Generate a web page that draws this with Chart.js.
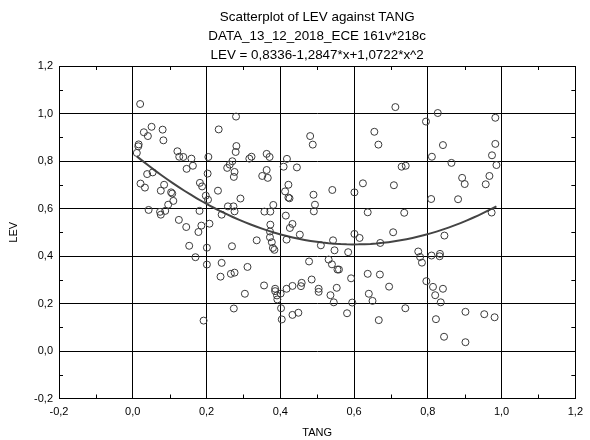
<!DOCTYPE html>
<html>
<head>
<meta charset="utf-8">
<script src="https://cdn.jsdelivr.net/npm/chart.js@4/dist/chart.umd.min.js"></script>
<style>
html,body{margin:0;padding:0;background:#fff;}
canvas{display:block;}
</style>
</head>
<body>
<canvas id="c" width="590" height="440"></canvas>
<script>
// ---- Data ----
const titleLines = ["Scatterplot of LEV against TANG", "DATA_13_12_2018_ECE 161v*218c", "LEV = 0,8336-1,2847*x+1,0722*x^2"];
const xLabel = "TANG";
const yLabel = "LEV";
const axisTicks = [-0.2, 0.0, 0.2, 0.4, 0.6, 0.8, 1.0, 1.2];
const minorTicks = [-0.1, 0.1, 0.3, 0.5, 0.7, 0.9, 1.1];

const tang = [
0.020,0.051,0.030,0.041,0.081,0.083,0.016,0.015,0.011,0.121,0.126,0.137,0.159,0.205,0.233,0.280,0.281,0.279,0.270,0.263,0.256,0.276,0.274,0.163,0.146,0.039,0.054,0.203,
0.316,0.322,0.363,0.371,0.363,0.351,0.366,0.418,0.409,0.445,0.481,0.488,0.655,0.666,0.712,0.729,0.740,
0.827,0.795,0.983,0.841,0.983,0.974,0.811,0.864,0.986,0.967,0.893,
0.021,0.033,0.085,0.076,0.104,0.107,0.110,0.096,0.043,0.074,0.076,0.088,0.182,0.188,0.231,0.198,0.204,0.181,0.258,0.273,0.276,0.241,0.125,0.145,0.186,0.208,0.178,0.153,0.201,0.269,0.170,0.201,0.241,0.238,0.266,0.276,
0.274,0.192,
0.422,0.413,0.422,0.425,0.292,0.490,0.541,0.601,0.624,0.708,0.494,0.491,0.381,0.357,0.373,0.415,0.637,0.736,0.433,0.426,0.373,0.372,0.372,0.453,0.417,0.336,0.377,0.380,0.384,0.510,0.543,0.547,0.601,0.615,0.584,0.671,0.706,0.311,0.478,0.531,0.540,0.555,0.559,0.637,0.670,0.592,0.485,0.458,0.456,0.433,0.356,0.417,0.386,0.504,0.553,0.695,
0.304,0.386,0.391,0.392,0.401,0.402,0.404,0.433,0.449,0.504,0.536,0.545,0.581,0.595,0.640,0.650,0.667,0.739,
0.796,0.814,0.841,0.820,0.835,0.822,0.844,0.902,0.953,0.981,0.902,
0.900,0.957,0.809,0.882,0.973,0.845,0.774,0.779,0.784,0.810,0.833,0.832
];
const lev = [
1.040,0.944,0.921,0.905,0.932,0.887,0.870,0.862,0.834,0.841,0.818,0.817,0.810,0.817,0.933,0.987,0.863,0.838,0.799,0.785,0.771,0.754,0.733,0.780,0.767,0.745,0.752,0.747,
0.810,0.818,0.830,0.817,0.762,0.737,0.729,0.809,0.776,0.773,0.905,0.869,0.923,0.869,1.027,0.776,0.780,
1.002,0.966,0.982,0.867,0.872,0.824,0.818,0.792,0.783,0.737,0.729,
0.705,0.688,0.700,0.675,0.668,0.663,0.632,0.616,0.594,0.586,0.574,0.590,0.708,0.693,0.675,0.654,0.637,0.590,0.609,0.609,0.588,0.574,0.552,0.522,0.528,0.536,0.501,0.443,0.435,0.441,0.395,0.364,0.371,0.313,0.325,0.330,
0.179,0.128,
0.700,0.672,0.646,0.643,0.642,0.658,0.678,0.668,0.706,0.698,0.616,0.588,0.615,0.587,0.587,0.570,0.584,0.582,0.535,0.518,0.532,0.503,0.479,0.490,0.469,0.466,0.458,0.434,0.426,0.445,0.466,0.424,0.493,0.476,0.416,0.455,0.500,0.354,0.377,0.385,0.365,0.343,0.343,0.325,0.322,0.306,0.301,0.287,0.273,0.274,0.276,0.262,0.262,0.262,0.266,0.271,
0.241,0.252,0.234,0.217,0.242,0.180,0.133,0.152,0.161,0.249,0.235,0.205,0.159,0.204,0.241,0.211,0.130,0.180,
0.294,0.270,0.262,0.235,0.205,0.134,0.060,0.165,0.155,0.142,0.037,
0.703,0.702,0.640,0.639,0.583,0.486,0.419,0.396,0.372,0.402,0.409,0.399
];

// regression coefficients shown in the title
const fitB0 = 0.8336, fitB1 = -1.2847, fitB2 = 1.0722;

// ---- Build datasets ----
const points = tang.map((x, i) => ({x: x, y: lev[i]}));
const xMin = Math.min(...tang), xMax = Math.max(...tang);
const fitPts = [];
const nFit = 60;
for (let i = 0; i <= nFit; i++) {
  const x = xMin + (xMax - xMin) * i / nFit;
  fitPts.push({x: x, y: fitB0 + fitB1 * x + fitB2 * x * x});
}

function fmt(v) {
  if (Math.abs(v) < 1e-9) return "0,0";
  return (Math.round(v * 10) / 10).toFixed(1).replace('.', ',');
}

const FONT = "'Liberation Sans', Arial, sans-serif";
Chart.defaults.font.family = FONT;
Chart.defaults.font.size = 11;
Chart.defaults.color = '#000';

// Title centred over the plot area
const plotTitlePlugin = {
  id: 'plotTitle',
  afterDraw(chart) {
    const ctx = chart.ctx;
    const a = chart.chartArea;
    const cx = (a.left + a.right) / 2;
    const ys = [17, 36.5, 55.5];
    ctx.save();
    ctx.fillStyle = '#000';
    ctx.font = "13.4px " + FONT;
    ctx.textAlign = 'center';
    ctx.textBaseline = 'middle';
    titleLines.forEach((t, i) => ctx.fillText(t, cx, ys[i]));
    ctx.restore();
  }
};

const minorTickPlugin = {
  id: 'minorTicks',
  afterDraw(chart) {
    const ctx = chart.ctx;
    const xs = chart.scales.x, ys = chart.scales.y;
    const a = chart.chartArea;
    const len = 4;
    ctx.save();
    ctx.strokeStyle = '#000';
    ctx.lineWidth = 1;
    ctx.beginPath();
    minorTicks.forEach(v => {
      const px = Math.round(xs.getPixelForValue(v)) + 0.5;
      ctx.moveTo(px, a.bottom); ctx.lineTo(px, a.bottom - len);
      ctx.moveTo(px, a.top); ctx.lineTo(px, a.top + len);
      const py = Math.round(ys.getPixelForValue(v)) + 0.5;
      ctx.moveTo(a.left, py); ctx.lineTo(a.left + len, py);
      ctx.moveTo(a.right, py); ctx.lineTo(a.right - len, py);
    });
    ctx.stroke();
    ctx.restore();
  }
};

new Chart(document.getElementById('c'), {
  type: 'scatter',
  data: {
    datasets: [
      {
        label: 'LEV',
        data: points,
        pointStyle: 'circle',
        pointRadius: 3.5,
        pointHoverRadius: 3.5,
        borderColor: '#3a3a3a',
        backgroundColor: 'rgba(0,0,0,0)',
        pointBorderWidth: 1,
        borderWidth: 1
      },
      {
        label: 'fit',
        data: fitPts,
        showLine: true,
        pointRadius: 0,
        borderColor: '#444',
        borderWidth: 2,
        fill: false,
        tension: 0
      }
    ]
  },
  options: {
    responsive: false,
    animation: false,
    events: [],
    layout: { padding: { left: 0, right: 9, top: 66, bottom: 0 } },
    plugins: {
      legend: { display: false },
      tooltip: { enabled: false },
      title: { display: false }
    },
    scales: {
      x: {
        type: 'linear',
        min: -0.2, max: 1.2,
        afterFit(s) { s.height = 41.5; },
        afterBuildTicks(s) { s.ticks = axisTicks.map(v => ({value: v})); },
        ticks: { callback: fmt, padding: 7, color: '#000', font: { size: 11 } },
        grid: { color: '#000', lineWidth: 1, drawTicks: false },
        border: { display: true, color: '#000', width: 1 },
        title: { display: true, text: xLabel, color: '#000', font: { size: 11 }, padding: { top: 0, bottom: 0 } }
      },
      y: {
        type: 'linear',
        min: -0.2, max: 1.2,
        afterFit(s) { s.width = 59; },
        afterBuildTicks(s) { s.ticks = axisTicks.map(v => ({value: v})); },
        ticks: { callback: fmt, padding: 6, color: '#000', font: { size: 11 } },
        grid: { color: '#000', lineWidth: 1, drawTicks: false },
        border: { display: true, color: '#000', width: 1 },
        title: { display: true, text: yLabel, color: '#000', font: { size: 11 }, padding: { top: 7.4, bottom: 0 } }
      }
    }
  },
  plugins: [plotTitlePlugin, minorTickPlugin]
});
</script>
</body>
</html>
